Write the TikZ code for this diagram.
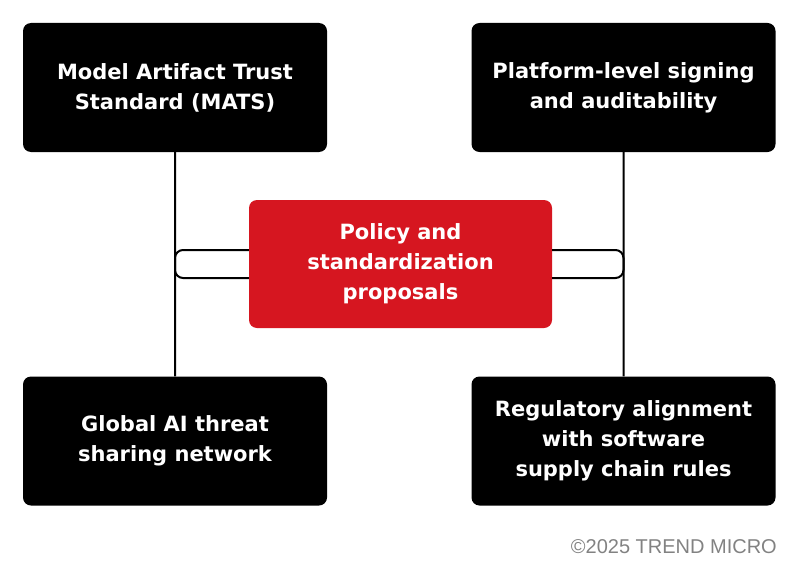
\documentclass[tikz,border=0pt]{standalone}
\usepackage{fontspec}
\setmainfont{DejaVu Sans}
\newfontfamily\creditfont{Liberation Sans}
\definecolor{boxcol}{RGB}{0,0,0}
\definecolor{redcol}{RGB}{214,22,32}
\definecolor{notecol}{RGB}{130,130,130}
\tikzset{
  topic/.style={fill=boxcol, rounded corners=8pt, minimum width=304pt, minimum height=129pt,
    text=white, align=center, font=\bfseries\fontsize{21}{30}\selectfont},
  hub/.style={topic, fill=redcol, minimum width=303pt, minimum height=128pt},
  link/.style={line width=2pt, black, rounded corners=8pt}
}
\begin{document}
\begin{tikzpicture}[x=1pt, y=-1pt]
    \useasboundingbox (0,0) rectangle (800,578);

    % Centre and the four topics
    \node[hub] (policy) at (400.5,264) {Policy and\\standardization\\proposals};
    \node[topic] (mats) at (175,87.5) {Model Artifact Trust\\Standard (MATS)};
    \node[topic] (signing) at (623.5,87.5) {Platform-level signing\\and auditability};
    \node[topic] (threat) at (175,441) {Global AI threat\\sharing network};
    \node[topic] (regulatory) at (623.5,441) {Regulatory alignment\\with software\\supply chain rules};

    % Connectors
    \draw[link] (mats.south) |- ([yshift=-14pt]policy.west);
    \draw[link] (signing.south) |- ([yshift=-14pt]policy.east);
    \draw[link] (threat.north) |- ([yshift=14pt]policy.west);
    \draw[link] (regulatory.north) |- ([yshift=14pt]policy.east);

    % Credit
    \node[text=notecol, font=\creditfont\fontsize{20}{22}\selectfont, anchor=east, inner sep=0pt] (credit) at (777,547) {©2025 TREND MICRO};
\end{tikzpicture}
\end{document}
